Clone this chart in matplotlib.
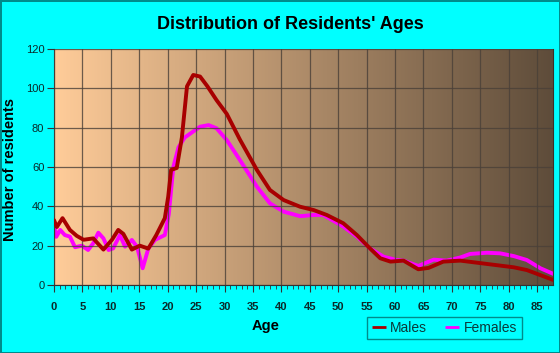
import numpy as np
import matplotlib
matplotlib.use("Agg")
import matplotlib.pyplot as plt
from matplotlib.colors import LinearSegmentedColormap
from matplotlib.patches import Rectangle

plt.rcParams['font.family'] = ['Liberation Sans', 'DejaVu Sans']

# values
male_age = [0, 0.5, 1.5, 2.8, 4, 5.2, 6.9, 8.7, 10.2, 11.3, 12.2, 13.7, 15.1, 16.6,
            18, 19.5, 20.1, 20.6, 21.6, 22.5, 23.4, 24.5, 25.7, 27, 28.6, 30.4,
            32.7, 35.7, 38, 40.4, 43.3, 45.7, 48, 50.9, 53.3, 55.6, 57.4, 59.2,
            61.5, 64.1, 65.9, 68.5, 71.5, 76.2, 80.9, 83.2, 85.6, 87.9]
male_count = [33, 29.5, 34, 28, 25, 23, 23.7, 18, 23, 28, 26, 18, 20, 18.5,
              25.4, 34, 45, 58.5, 59.5, 75, 101, 106.8, 106, 101, 94, 87,
              74, 58.5, 48.3, 43.2, 39.8, 38.1, 35.6, 31.4, 25.4, 18.6, 13.6, 11.9,
              12.4, 8, 8.7, 11.9, 12.4, 10.7, 9, 7.6, 5, 2.5]

female_age = [0, 0.4, 1.1, 1.9, 2.8, 3.7, 4.9, 6, 6.9, 7.8, 8.7, 9.6, 10.4, 11.6,
              12.5, 13.7, 14.6, 15.6, 16.6, 17.8, 19.5, 20.2, 21, 21.9, 23, 25.7,
              27.2, 28.6, 30.4, 32.7, 35.7, 38, 40.4, 43.3, 45.7, 47.4, 50.9, 53.3,
              55.6, 58, 60.3, 61.5, 64.1, 66.8, 69.1, 71.5, 73.2, 76.2, 78.5, 80.9,
              83.2, 85.6, 87.9]
female_count = [32, 24.5, 28, 25.4, 24.6, 19.2, 20, 17.8, 21.2, 26.6, 23.7, 17.8, 18.6, 25.4,
                19.5, 22.9, 19.5, 8.5, 18.6, 23, 25.4, 36, 60, 70, 75, 80.5,
                81.3, 79.7, 73.7, 63.6, 50, 41.5, 37.3, 35, 35.6, 35.6, 29.7, 24.6,
                18.6, 14.4, 12.7, 12.4, 9.7, 12.9, 12.4, 14, 15.8, 16.4, 16.1, 14.7,
                12.7, 8.5, 5.6]

x_ticks = list(range(0, 90, 5))
y_ticks = [0, 20, 40, 60, 80, 100, 120]

fig = plt.figure(figsize=(5.6, 3.53), dpi=100, facecolor="#00FFFF",
                 edgecolor="#008B8B", linewidth=2)
ax = fig.add_axes([54 / 560, 1 - 285 / 353, 499 / 560, 236 / 353])

xmax = 87.8
# background gradient, light peach to dark brown
cmap = LinearSegmentedColormap.from_list("bg", ["#FFCC99", "#5E4C3A"])
grad = np.linspace(0, 1, 256).reshape(1, -1)
ax.imshow(grad, cmap=cmap, aspect="auto", extent=[0, xmax, 0, 120], zorder=0)

ax.plot(male_age, male_count, color="#A80000", lw=2.8, label="Males", zorder=3,
        solid_joinstyle="round", solid_capstyle="round")
ax.plot(female_age, female_count, color="#FF00FF", lw=2.8, label="Females", zorder=2,
        solid_joinstyle="round", solid_capstyle="round")

ax.set_xlim(0, xmax)
ax.set_ylim(0, 120)
ax.set_xticks(x_ticks)
ax.set_xticks(range(0, 88), minor=True)
ax.set_yticks(y_ticks)
ax.grid(True, which="major", color="#4A4038", lw=0.9, alpha=0.8)
ax.set_axisbelow(False)
ax.spines["top"].set_visible(False)
ax.spines["right"].set_color("#3A3028")
ax.spines["left"].set_color("#333333")
ax.spines["bottom"].set_color("#333333")
ax.tick_params(axis="both", which="both", direction="out", color="#333333",
               labelcolor="#0A2A2A")
ax.tick_params(axis="x", which="major", length=5, labelsize=8, pad=7)
ax.tick_params(axis="x", which="minor", length=3)
ax.tick_params(axis="y", length=5, labelsize=8, pad=2)
for lab in ax.get_xticklabels():
    lab.set_fontweight("bold")

fig.text(0.518, 0.932, "Distribution of Residents' Ages", ha="center", va="center",
         fontsize=13, fontweight="bold")
ax.set_xlabel("Age", fontsize=10.5, fontweight="bold")
ax.xaxis.set_label_coords(0.425, -0.145)
ax.set_ylabel("Number of residents", fontsize=10.5, fontweight="bold")
ax.yaxis.set_label_coords(-0.074, 0.49)

# legend box
fig.patches.append(Rectangle((367 / 560, 14 / 353), 155 / 560, 22 / 353,
                             transform=fig.transFigure, facecolor="none",
                             edgecolor="#008B8B", lw=1))
leg = fig.legend(loc="center", bbox_to_anchor=(367 / 560, 14 / 353, 155 / 560, 22 / 353),
                 ncol=2, frameon=False, fontsize=10, handlelength=1.0,
                 handletextpad=0.3, columnspacing=1.3, borderaxespad=0, borderpad=0)
for t in leg.get_texts():
    t.set_color("#0A3A3A")
for h in leg.get_lines():
    h.set_linewidth(2)
    h.set_solid_capstyle("butt")

fig.savefig("out.png", dpi=100, facecolor=fig.get_facecolor(), edgecolor=fig.get_edgecolor())
